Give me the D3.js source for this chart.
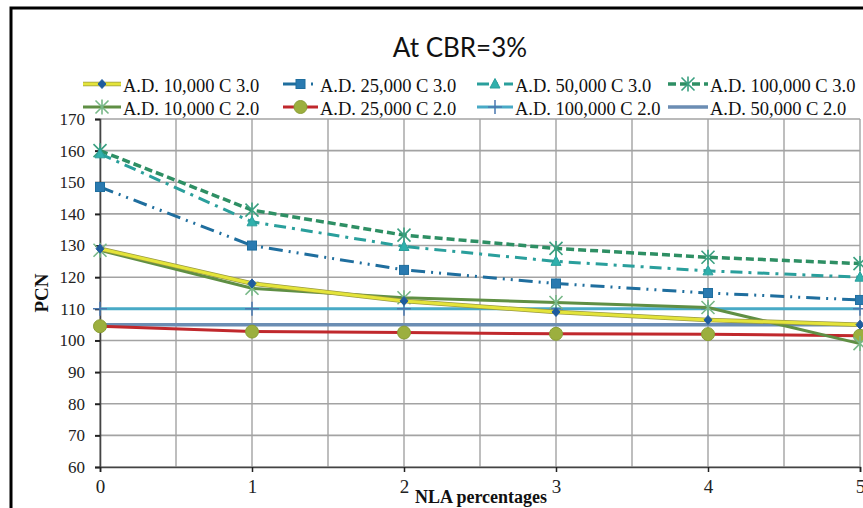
<!DOCTYPE html>
<html><head><meta charset="utf-8">
<script src="https://cdn.jsdelivr.net/npm/d3@7"></script>
<style>html,body{margin:0;padding:0;background:#fff;overflow:hidden}</style>
</head><body>
<svg id="c" width="863" height="508"></svg>
<script>
// ---- data ----
const nla = [0, 1, 2, 3, 4, 5];
const yTicks = [60, 70, 80, 90, 100, 110, 120, 130, 140, 150, 160, 170];
const ad10k_c3  = [129, 118, 112.5, 109, 106.5, 105];
const ad25k_c3  = [148.5, 130, 122.3, 118, 115, 112.8];
const ad50k_c3  = [159, 137.5, 129.7, 125, 122, 120];
const ad100k_c3 = [160, 141.2, 133.3, 129.1, 126.3, 124.3];
const ad10k_c2  = [128.5, 116.5, 113.5, 112, 110.4, 99];
const ad25k_c2  = [104.5, 102.8, 102.5, 102.1, 102, 101.5];
const ad100k_c2 = [110, 110, 110, 110, 110, 110];
const ad50k_c2  = [105, 105, 105, 105, 105, 105];
const names = ["A.D. 10,000 C 3.0","A.D. 25,000 C 3.0","A.D. 50,000 C 3.0","A.D. 100,000 C 3.0",
               "A.D. 10,000 C 2.0","A.D. 25,000 C 2.0","A.D. 100,000 C 2.0","A.D. 50,000 C 2.0"];

const series = [
  {name:names[0], v:ad10k_c3,  color:"#e4e43a", edge:"#9a9a40", w:3, dash:null, marker:"diamond", mfill:"#1f5c9e", mstroke:"#1f5c9e"},
  {name:names[1], v:ad25k_c3,  color:"#1f6e9e", w:3, dash:"14,6,2,6,2,6", marker:"square", mfill:"#2a7ab0", mstroke:"#1f6e9e"},
  {name:names[2], v:ad50k_c3,  color:"#2a9f9c", w:3, dash:"12,6,3,6", marker:"triangle", mfill:"#30b0ac", mstroke:"#2a9f9c"},
  {name:names[3], v:ad100k_c3, color:"#2e8f64", w:3.5, dash:"8,4", marker:"xstar", mfill:"none", mstroke:"#3aa080"},
  {name:names[4], v:ad10k_c2,  color:"#5f8f44", w:3, dash:null, marker:"star", mfill:"none", mstroke:"#78b888"},
  {name:names[5], v:ad25k_c2,  color:"#c0282c", w:3, dash:null, marker:"circle", mfill:"#9caf3e", mstroke:"#8a9e36"},
  {name:names[6], v:ad100k_c2, color:"#48aac6", w:3, dash:null, marker:"plus", mfill:"none", mstroke:"#4a78b0"},
  {name:names[7], v:ad50k_c2,  color:"#6b8db3", w:3.5, dash:null, marker:"none"}
];
const drawOrder = [7, 6, 5, 4, 3, 2, 1, 0];

const svg = d3.select("#c");
svg.append("rect").attr("width",863).attr("height",508).attr("fill","#fff");

const x = d3.scaleLinear().domain([0,5]).range([100,860]);
const y = d3.scaleLinear().domain([60,170]).range([467,119]);

// grid
const g = svg.append("g");
g.selectAll("line.h").data(yTicks).join("line")
  .attr("x1",x(0)).attr("x2",x(5)).attr("y1",d=>y(d)).attr("y2",d=>y(d))
  .attr("stroke","#a3a3a3").attr("stroke-width",1.6);
g.selectAll("line.v").data(d3.range(0,5.01,0.5)).join("line")
  .attr("x1",d=>x(d)).attr("x2",d=>x(d)).attr("y1",y(60)).attr("y2",y(170))
  .attr("stroke","#a3a3a3").attr("stroke-width",1.4);

// axes
const yAxis = d3.axisLeft(y).tickValues(yTicks).tickSize(5).tickPadding(10);
const ya = svg.append("g").attr("transform",`translate(${x(0)},0)`).call(yAxis);
ya.select(".domain").attr("stroke","#444").attr("stroke-width",1.6);
ya.selectAll(".tick line").attr("stroke","#222").attr("stroke-width",2);
ya.selectAll("text").attr("font-family","Liberation Serif").attr("font-size",17).attr("fill","#222");

const xAxis = d3.axisBottom(x).tickValues(nla).tickSize(5).tickPadding(8).tickFormat(d3.format("d"));
const xa = svg.append("g").attr("transform",`translate(0,${y(60)})`).call(xAxis);
xa.select(".domain").attr("stroke","#444").attr("stroke-width",1.6);
xa.selectAll(".tick line").attr("stroke","#222").attr("stroke-width",1.5);
xa.selectAll("text").attr("font-family","Liberation Serif").attr("font-size",19).attr("fill","#222");

// markers
function marker(sel, s, cx, cy) {
  const m = s.marker;
  if (m === "diamond") {
    sel.append("path").attr("d",`M${cx},${cy-4.5}L${cx+4},${cy}L${cx},${cy+4.5}L${cx-4},${cy}Z`)
      .attr("fill",s.mfill).attr("stroke",s.mstroke);
  } else if (m === "square") {
    sel.append("rect").attr("x",cx-4.5).attr("y",cy-4.5).attr("width",9).attr("height",9)
      .attr("fill",s.mfill).attr("stroke",s.mstroke).attr("stroke-width",1);
  } else if (m === "triangle") {
    sel.append("path").attr("d",`M${cx},${cy-5.5}L${cx+5},${cy+4}L${cx-5},${cy+4}Z`)
      .attr("fill",s.mfill).attr("stroke",s.mstroke);
  } else if (m === "circle") {
    sel.append("circle").attr("cx",cx).attr("cy",cy).attr("r",6.5)
      .attr("fill",s.mfill).attr("stroke",s.mstroke).attr("stroke-width",1);
  } else if (m === "xstar" || m === "star") {
    const r = 6.5;
    sel.append("path").attr("d",`M${cx-r},${cy-r}L${cx+r},${cy+r}M${cx-r},${cy+r}L${cx+r},${cy-r}M${cx},${cy-r-1}L${cx},${cy+r+1}`)
      .attr("stroke",s.mstroke).attr("stroke-width",1.6).attr("fill","none");
  } else if (m === "plus") {
    const r = 7;
    sel.append("path").attr("d",`M${cx-r},${cy}L${cx+r},${cy}M${cx},${cy-r}L${cx},${cy+r}`)
      .attr("stroke",s.mstroke).attr("stroke-width",1.5).attr("fill","none");
  }
}

const line = d3.line().x((d,i)=>x(nla[i])).y(d=>y(d));
const plot = svg.append("g");
drawOrder.forEach(k => {
  const s = series[k];
  const gs = plot.append("g");
  if (s.edge) {
    gs.append("path").attr("d",line(s.v)).attr("fill","none").attr("stroke",s.edge).attr("stroke-width",s.w+1.5);
  }
  gs.append("path").attr("d",line(s.v)).attr("fill","none")
    .attr("stroke",s.color).attr("stroke-width",s.w)
    .attr("stroke-dasharray",s.dash).attr("stroke-linejoin","round");
  s.v.forEach((v,i)=>marker(gs, s, x(nla[i]), y(v)));
});

// title
svg.append("text").attr("x",460).attr("y",57).attr("text-anchor","middle")
  .attr("font-family","Lato").attr("font-size",26).attr("fill","#111").text("At CBR=3%");

// legend
const colSample = [83, 283, 477, 668];
const colText = [123, 320, 515, 710];
const rowY = [84, 107];
const legend = svg.append("g");
series.forEach((s, i) => {
  const r = Math.floor(i/4), c = i%4;
  const lg = legend.append("g");
  const x0 = colSample[c], x1 = colText[c]-2, ly = rowY[r];
  if (s.edge) lg.append("line").attr("x1",x0).attr("x2",x1).attr("y1",ly).attr("y2",ly).attr("stroke",s.edge).attr("stroke-width",s.w+1.5);
  lg.append("line").attr("x1",x0).attr("x2",x1).attr("y1",ly).attr("y2",ly)
    .attr("stroke",s.color).attr("stroke-width",s.w).attr("stroke-dasharray",s.dash);
  marker(lg, s, (x0+x1)/2, ly);
  lg.append("text").attr("x",colText[c]).attr("y",ly+8)
    .attr("font-family","Liberation Serif").attr("font-size",18.5).attr("fill","#111").text(s.name);
});

// axis titles
svg.append("text").attr("transform","translate(48,293) rotate(-90)").attr("text-anchor","middle")
  .attr("font-family","Liberation Serif").attr("font-weight","bold").attr("font-size",19).attr("fill","#111").text("PCN");
svg.append("text").attr("x",481).attr("y",503).attr("text-anchor","middle")
  .attr("font-family","Liberation Serif").attr("font-weight","bold").attr("font-size",18).attr("fill","#111").text("NLA percentages");

// frame
svg.append("rect").attr("x",11).attr("y",8).attr("width",900).attr("height",600)
  .attr("fill","none").attr("stroke","#000").attr("stroke-width",3);
</script>
</body></html>
